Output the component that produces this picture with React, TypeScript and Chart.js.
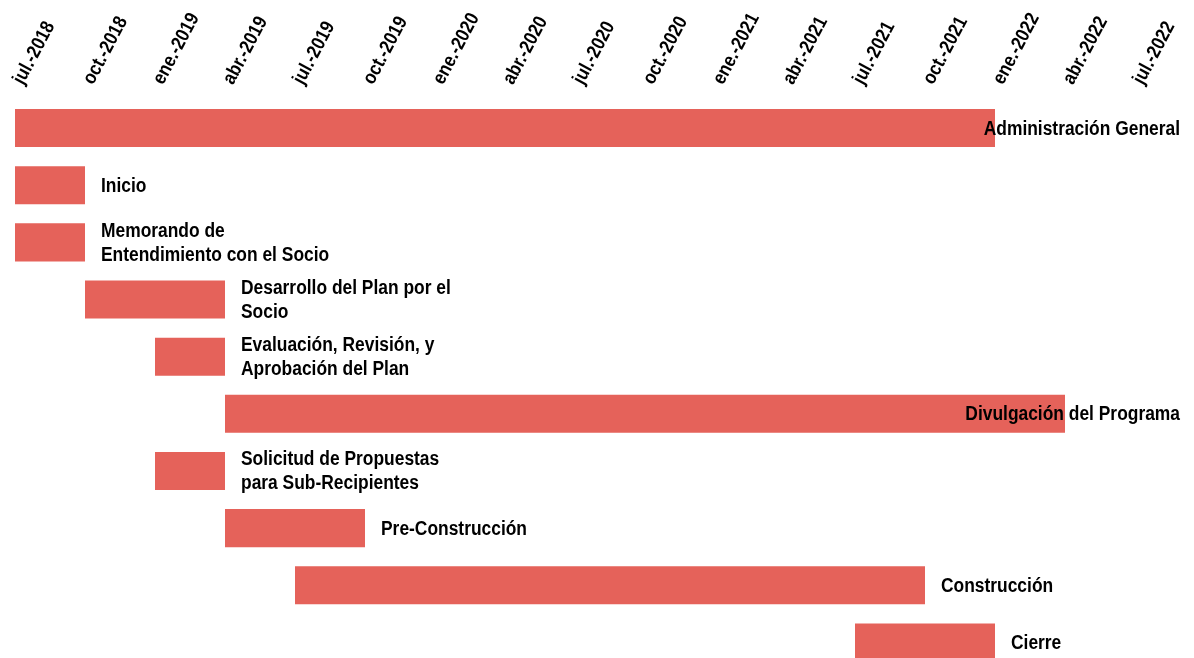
import React, { useEffect, useRef } from 'react';
import { Chart, registerables } from 'chart.js';

Chart.register(...registerables);

// Quarter tick labels (months since jul-2018, every 3 months)
const tickLabels = [
  'jul.-2018', 'oct.-2018', 'ene.-2019', 'abr.-2019', 'jul.-2019', 'oct.-2019',
  'ene.-2020', 'abr.-2020', 'jul.-2020', 'oct.-2020', 'ene.-2021', 'abr.-2021',
  'jul.-2021', 'oct.-2021', 'ene.-2022', 'abr.-2022', 'jul.-2022',
];

const taskNames: string[][] = [
  ['Administración General'],
  ['Inicio'],
  ['Memorando de', 'Entendimiento con el Socio'],
  ['Desarrollo del Plan por el', 'Socio'],
  ['Evaluación, Revisión, y', 'Aprobación del Plan'],
  ['Divulgación del Programa'],
  ['Solicitud de Propuestas', 'para Sub-Recipientes'],
  ['Pre-Construcción'],
  ['Construcción'],
  ['Cierre'],
];

// Months since jul-2018
const startMonths = [0, 0, 0, 3, 6, 9, 6, 9, 12, 36];
const endMonths = [42, 3, 3, 9, 9, 45, 9, 15, 39, 42];

const BAR_COLOR = '#E5625A';
const FONT = '"Liberation Sans", Arial, sans-serif';
const NARROW = 0.87; // horizontal squeeze to imitate a narrow typeface

// Patch fillText while the chart draws so that all text is horizontally condensed
const narrowTextPlugin = {
  id: 'narrowText',
  beforeDraw(chart: any) {
    const ctx = chart.ctx;
    if (ctx.__origFill) return;
    const orig = ctx.fillText;
    ctx.__origFill = orig;
    ctx.fillText = function (text: string, x: number, y: number, mw?: number) {
      this.save();
      this.translate(x, y);
      this.scale(NARROW, 1);
      if (mw !== undefined) orig.call(this, text, 0, 0, mw / NARROW);
      else orig.call(this, text, 0, 0);
      this.restore();
    };
  },
  afterDraw(chart: any) {
    const ctx = chart.ctx;
    if (ctx.__origFill) {
      ctx.fillText = ctx.__origFill;
      delete ctx.__origFill;
    }
  },
};

const labelPlugin = {
  id: 'taskLabels',
  afterDatasetsDraw(chart: any) {
    const ctx = chart.ctx;
    const meta = chart.getDatasetMeta(0);
    ctx.save();
    ctx.font = `bold 20px ${FONT}`;
    ctx.fillStyle = '#000';
    ctx.textBaseline = 'middle';
    ctx.textAlign = 'left';
    const limit = 1180;
    const lh = 24;
    meta.data.forEach((bar: any, i: number) => {
      const lines = taskNames[i];
      const w = Math.max(...lines.map((l) => ctx.measureText(l).width)) * NARROW;
      let x = bar.x + 16;
      if (x + w > limit) x = limit - w;
      const y0 = bar.y + 1 - ((lines.length - 1) * lh) / 2;
      lines.forEach((l, k) => ctx.fillText(l, x, y0 + k * lh));
    });
    ctx.restore();
  },
};

export default function App() {
  const ref = useRef<HTMLCanvasElement>(null);
  useEffect(() => {
    if (!ref.current) return;
    const chart = new Chart(ref.current, {
      type: 'bar',
      data: {
        labels: taskNames.map((n) => n.join(' ')),
        datasets: [
          {
            data: startMonths.map((s, i) => [s, endMonths[i]]) as any,
            backgroundColor: BAR_COLOR,
            borderWidth: 0,
            barPercentage: 0.665,
            categoryPercentage: 1,
          },
        ],
      },
      options: {
        indexAxis: 'y',
        animation: false,
        responsive: true,
        maintainAspectRatio: false,
        layout: { padding: { left: 15, right: 59, top: 0, bottom: 0 } },
        plugins: { legend: { display: false }, tooltip: { enabled: false } },
        scales: {
          x: {
            type: 'linear',
            position: 'top',
            min: 0,
            max: 48,
            grid: { display: false, drawTicks: false },
            border: { display: false },
            afterFit: (s: any) => {
              s.height = 99.5;
              s.paddingLeft = 0;
              s.paddingRight = 0;
            },
            ticks: {
              stepSize: 3,
              autoSkip: false,
              minRotation: 62,
              maxRotation: 62,
              padding: 11,
              labelOffset: 24,
              color: '#000',
              font: { family: FONT, size: 19.5, weight: 'bold' },
              callback: (v: any) => tickLabels[Math.round(Number(v) / 3)] ?? '',
            },
          },
          y: {
            display: false,
          },
        },
      },
      plugins: [narrowTextPlugin, labelPlugin],
    });
    return () => chart.destroy();
  }, []);

  return (
    <div style={{ position: 'fixed', left: 0, top: 0, width: 1194, height: 658, overflow: 'hidden', background: '#fff' }}>
      <div style={{ position: 'relative', width: 1194, height: 671 }}>
        <canvas ref={ref} />
      </div>
    </div>
  );
}
